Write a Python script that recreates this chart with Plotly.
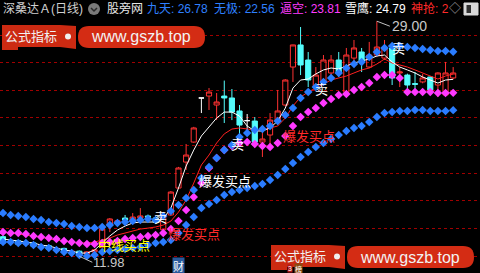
import plotly.graph_objects as go

# ---------------- data ----------------
opens = [13.40, 12.95, 13.10, 12.85, 12.95, 12.70, 12.75, 12.50, 12.55, 12.30,
         12.35, 12.15, 12.30, 12.65, 14.24, 14.40, 14.75, 14.46, 14.75, 14.90,
         14.75, 13.90, 14.97, 16.92, 18.80, 20.25, 23.44, 23.58, 22.93, 23.58,
         23.44, 22.50, 21.80, 21.77, 20.25, 20.76, 21.84, 22.93, 25.68, 27.28,
         26.19, 24.23, 24.65, 25.25, 26.19, 23.85, 26.33, 26.77, 25.68, 26.55,
         26.33, 27.06, 25.25, 25.10, 24.48, 24.60, 24.96, 24.38, 23.66, 24.89]
highs = [13.50, 13.20, 13.15, 13.00, 13.00, 12.85, 12.80, 12.65, 12.60, 12.45,
         12.40, 12.35, 12.50, 14.00, 14.75, 14.65, 14.97, 15.11, 15.47, 15.00,
         14.85, 15.00, 16.70, 18.45, 20.11, 21.35, 23.44, 24.16, 23.80, 24.70,
         24.09, 22.93, 22.28, 22.06, 20.98, 22.35, 24.02, 24.80, 27.30, 28.58,
         26.77, 25.68, 26.55, 26.55, 26.77, 27.06, 27.64, 27.06, 27.50, 29.00,
         27.64, 27.10, 25.68, 25.20, 25.32, 25.18, 25.00, 25.30, 26.05, 25.68]
lows = [12.90, 12.85, 12.80, 12.70, 12.65, 12.60, 12.45, 12.40, 12.25, 12.15,
        11.98, 12.05, 12.20, 12.60, 13.73, 14.30, 14.46, 14.40, 14.70, 14.60,
        14.35, 13.85, 14.90, 16.85, 18.23, 20.20, 22.35, 22.57, 21.84, 21.63,
        21.84, 20.76, 21.12, 20.03, 19.17, 19.67, 21.48, 22.85, 24.60, 25.10,
        24.23, 24.10, 24.55, 24.74, 24.96, 23.80, 26.10, 25.32, 25.60, 26.40,
        26.20, 24.38, 24.23, 24.02, 23.87, 24.50, 23.66, 23.51, 23.60, 24.80]
closes = [12.95, 13.10, 12.85, 12.95, 12.70, 12.75, 12.50, 12.55, 12.30, 12.35,
          12.15, 12.30, 12.45, 13.95, 14.68, 14.55, 14.60, 14.82, 14.90, 14.80,
          14.45, 14.97, 16.63, 18.37, 19.31, 21.27, 23.44, 23.87, 23.15, 23.44,
          22.42, 21.48, 21.80, 20.25, 20.47, 21.84, 22.50, 24.74, 27.28, 25.83,
          24.74, 25.10, 26.19, 26.19, 25.32, 26.55, 27.06, 26.05, 26.55, 27.13,
          27.06, 24.89, 25.32, 24.38, 24.43, 24.89, 24.02, 25.25, 25.25, 25.25]

xueying = [13.23, 13.16, 13.08, 13.01, 12.94, 12.79, 12.72, 12.58, 12.43, 12.36,
           12.21, 12.21, 12.43, 12.94, 13.45, 13.88, 14.17, 14.39, 14.46, 14.46,
           14.46, 14.68, 15.47, 16.92, 18.51, 19.67, 20.69, 21.34, 21.99, 22.42,
           22.42, 22.13, 21.41, 21.05, 21.05, 21.27, 21.77, 22.71, 24.16, 24.74,
           24.81, 25.18, 25.47, 25.61, 25.54, 25.76, 25.97, 26.12, 26.26, 26.48,
           26.55, 26.05, 25.68, 25.47, 25.25, 24.96, 24.74, 24.52, 24.74, 24.79]
red_line = [13.73, 13.66, 13.59, 13.52, 13.45, 13.37, 13.23, 13.16, 13.08, 13.01,
            12.94, 12.94, 13.01, 13.16, 13.30, 13.52, 13.66, 13.81, 13.95, 14.02,
            14.10, 14.24, 14.53, 15.18, 16.05, 17.28, 18.59, 19.31, 20.18, 20.84,
            21.19, 21.27, 21.19, 21.12, 21.12, 21.27, 21.41, 21.99, 22.86, 23.51,
            23.87, 24.16, 24.45, 24.74, 24.89, 25.03, 25.25, 25.47, 25.61, 25.90,
            26.26, 25.97, 25.83, 25.68, 25.47, 25.25, 25.03, 24.81, 25.03, 25.18]
jiutian = [15.11, 14.97, 14.89, 14.82, 14.68, 14.60, 14.46, 14.39, 14.32, 14.17,
           14.10, 14.02, 14.02, 14.10, 14.24, 14.39, 14.46, 14.53, 14.60, 14.68,
           14.60, 14.89, 15.25, 15.69, 16.20, 16.78, 17.65, 18.44, 19.09, 19.67,
           20.03, 20.61, 20.90, 21.12, 21.19, 21.41, 21.77, 22.21, 22.71, 23.44,
           23.87, 24.23, 24.60, 24.89, 25.25, 25.61, 25.90, 26.05, 26.41, 26.77,
           27.06, 27.20, 27.20, 27.13, 27.06, 26.99, 26.91, 26.84, 26.84, 26.78]
bikong = [13.73, 13.66, 13.66, 13.59, 13.45, 13.37, 13.30, 13.23, 13.08, 13.01,
          12.94, 12.87, 12.87, 12.94, 13.01, 13.08, 13.23, 13.30, 13.37, 13.45,
          13.52, 13.66, 13.95, 14.53, 15.33, 16.27, 17.28, 18.37, 19.09, 19.67,
          19.96, 20.18, 20.25, 20.11, 19.96, 19.89, 20.18, 20.69, 21.41, 22.06,
          22.42, 22.71, 23.08, 23.37, 23.66, 23.73, 24.02, 24.23, 24.52, 24.96,
          25.10, 25.10, 24.89, 23.87, 23.87, 23.87, 23.87, 23.80, 23.80, 23.81]
wuji = [13.01, 13.01, 12.94, 12.94, 12.79, 12.65, 12.58, 12.43, 12.29, 12.21,
        12.07, 12.00, 12.07, 12.29, 12.36, 12.43, 12.50, 12.58, 12.65, 12.79,
        12.94, 13.01, 13.16, 13.66, 14.24, 14.82, 15.47, 15.76, 16.05, 16.41,
        16.63, 16.78, 16.92, 17.07, 17.21, 17.50, 17.86, 18.30, 18.73, 19.17,
        19.53, 19.89, 20.18, 20.47, 20.76, 21.05, 21.27, 21.41, 21.70, 22.06,
        22.35, 22.42, 22.50, 22.50, 22.57, 22.57, 22.50, 22.50, 22.50, 22.56]

grid_levels = [12, 14, 16, 18, 20, 22, 24, 26, 28]

sig_x = [20.7, 30.7, 41.8, 51.8, 29.1, 40.1, 25.0, 15.9]
sig_y = [14.89, 20.11, 24.16, 27.13, 17.50, 20.76, 13.66, 12.82]
sig_text = ["卖", "卖", "卖", "卖", "爆发买点", "爆发买点", "爆发买点", "中线买点"]
sig_color = ["#ffffff", "#ffffff", "#ffffff", "#ffffff", "#ffffff", "#ff2a2a", "#ff2a2a", "#ffff00"]

title_text = ["深桑达Ａ(日线)", "股旁网", "九天: 26.78", "无极: 22.56",
              "逼空: 23.81", "雪鹰: 24.79", "神抢: 2", "◇"]
title_color = ["#d0d0d0", "#e6e6e6", "#2f80ff", "#2f80ff",
               "#ff3cff", "#ffffff", "#ff2a2a", "#a0a0a0"]
title_px = [1, 105, 145, 212, 278, 343, 409, 447]

hi_idx, hi_val = 49, 29.00
lo_idx, lo_val = 10, 11.98

# ---------------- figure ----------------
W, H = 480, 273
FONT = "Liberation Sans, Noto Sans CJK SC, sans-serif"
CJK = "Noto Sans CJK SC, sans-serif"

def px(x):
    return x / W

def py(y):
    return 1 - y / H

idx = list(range(len(opens)))
up = [i for i in idx if closes[i] > opens[i]]
dn = [i for i in idx if closes[i] < opens[i]]
fl = [i for i in idx if closes[i] == opens[i]]

def sub(arr, sel):
    return [arr[i] for i in sel]

fig = go.Figure()
RED = "#ff3232"
CYAN = "#54fcfc"
for sel, col, fill in [(up, RED, "rgba(0,0,0,0)"), (dn, CYAN, CYAN), (fl, "#ffffff", "#ffffff")]:
    fig.add_trace(go.Candlestick(
        x=sel, open=sub(opens, sel), high=sub(highs, sel), low=sub(lows, sel), close=sub(closes, sel),
        increasing=dict(line=dict(color=col, width=1), fillcolor=fill),
        decreasing=dict(line=dict(color=col, width=1), fillcolor=fill),
        whiskerwidth=0, hoverinfo="skip", showlegend=False))

fig.add_trace(go.Scatter(x=idx, y=red_line, mode="lines", line=dict(color="#ff2020", width=1),
                         hoverinfo="skip", showlegend=False))
fig.add_trace(go.Scatter(x=idx, y=xueying, mode="lines", line=dict(color="#ffffff", width=1),
                         hoverinfo="skip", showlegend=False))
for series, col in [(wuji, "#2a7cff"), (bikong, "#ff38ff"), (jiutian, "#2a7cff")]:
    fig.add_trace(go.Scatter(x=idx, y=series, mode="markers",
                             marker=dict(symbol="diamond", size=6.5, color=col, line=dict(width=0)),
                             hoverinfo="skip", showlegend=False))

ann = []
for x, y, t, c in zip(sig_x, sig_y, sig_text, sig_color):
    ann.append(dict(x=x, y=y, xref="x", yref="y", text=t, showarrow=False,
                    xanchor="center", yanchor="middle", borderpad=0,
                    font=dict(family=CJK, size=13, color=c)))

ann.append(dict(x=hi_idx, y=hi_val, xref="x", yref="y", text=f"{hi_val:.2f}", showarrow=True,
                arrowhead=0, arrowwidth=1, arrowcolor="#c0c0c0", ax=13, ay=5, xanchor="left",
                yanchor="middle", font=dict(family=FONT, size=14, color="#c8c8c8")))
ann.append(dict(x=lo_idx, y=lo_val, xref="x", yref="y", text=f"{lo_val:.2f}", showarrow=True,
                arrowhead=0, arrowwidth=1, arrowcolor="#c0c0c0", ax=13, ay=6, xanchor="left",
                yanchor="middle", borderpad=0, font=dict(family=FONT, size=13, color="#c8c8c8")))

for t, c, x in zip(title_text, title_color, title_px):
    ann.append(dict(x=px(x), y=py(9), xref="paper", yref="paper", text=t, showarrow=False,
                    xanchor="left", yanchor="middle", font=dict(family=FONT, size=12, color=c)))

shapes = []
# title icons
shapes.append(dict(type="circle", xref="paper", yref="paper", x0=px(88), x1=px(100), y0=py(15), y1=py(3),
                   fillcolor="#7a7a7a", line=dict(width=0), layer="above"))
shapes.append(dict(type="path", xref="paper", yref="paper",
                   path=f"M {px(91)},{py(8)} L {px(94)},{py(11)} L {px(97)},{py(8)}",
                   line=dict(color="#2a2a2a", width=1.5), layer="above"))
shapes.append(dict(type="rect", xref="paper", yref="paper", x0=px(464), x1=px(478), y0=py(15), y1=py(3),
                   fillcolor="#d8d8d8", line=dict(color="#d8d8d8", width=1), layer="above"))
shapes.append(dict(type="rect", xref="paper", yref="paper", x0=px(466.5), x1=px(471), y0=py(13), y1=py(5),
                   fillcolor="#303030", line=dict(width=0), layer="above"))


def watermark(x0, y0):
    # flag box with 公式指标, dot, rounded pill with url
    bx = [x0, x0 + 58, x0 + 74, x0 + 74, x0 + 58, x0 + 16, x0 + 16, x0]
    by = [y0, y0, y0 + 1, y0 + 24, y0 + 22, y0 + 22, y0 + 25, y0 + 25]
    p = "M " + " L ".join(f"{px(a)},{py(b)}" for a, b in zip(bx, by)) + " Z"
    shapes.append(dict(type="path", xref="paper", yref="paper", path=p, fillcolor="#cc2a12",
                       line=dict(width=0), layer="above"))
    shapes.append(dict(type="circle", xref="paper", yref="paper", x0=px(x0 + 63), x1=px(x0 + 69),
                       y0=py(y0 + 14.5), y1=py(y0 + 8.5), fillcolor="#f0f0f0", line=dict(width=0), layer="above"))
    l, r, t, b = x0 + 76, x0 + 203, y0 + 1, y0 + 23
    rad = 11
    p2 = (f"M {px(l + rad)},{py(t)} L {px(r - rad)},{py(t)} Q {px(r)},{py(t)} {px(r)},{py(t + rad)} "
          f"Q {px(r)},{py(b)} {px(r - rad)},{py(b)} L {px(l + rad)},{py(b)} "
          f"Q {px(l)},{py(b)} {px(l)},{py(t + rad)} Q {px(l)},{py(t)} {px(l + rad)},{py(t)} Z")
    shapes.append(dict(type="path", xref="paper", yref="paper", path=p2, fillcolor="#d42c14",
                       line=dict(width=0), layer="above"))
    ann.append(dict(x=px(x0 + 29), y=py(y0 + 10), xref="paper", yref="paper", text="公式指标",
                    showarrow=False, xanchor="center", yanchor="middle", borderpad=0,
                    font=dict(family=CJK, size=13, color="#f2f2f2")))
    ann.append(dict(x=px(x0 + 139), y=py(y0 + 12), xref="paper", yref="paper", text="www.gszb.top",
                    showarrow=False, xanchor="center", yanchor="middle",
                    font=dict(family=FONT, size=16, color="#f2f2f2")))


watermark(2, 25)
watermark(271, 245)

ann.append(dict(x=px(178.5), y=py(266), xref="paper", yref="paper", text="财", showarrow=False,
                xanchor="center", yanchor="middle",
                bgcolor="#2a5a9c", borderpad=0, font=dict(family=CJK, size=11, color="#ffffff")))
ann.append(dict(x=px(290), y=py(268.5), xref="paper", yref="paper", text="3", showarrow=False,
                xanchor="center", yanchor="middle",
                bgcolor="#b01818", borderpad=0, font=dict(family=FONT, size=7, color="#ffffff")))
ann.append(dict(x=px(298), y=py(268.5), xref="paper", yref="paper", text="榜", showarrow=False,
                xanchor="center", yanchor="middle",
                bgcolor="#8a4a10", borderpad=0, font=dict(family=CJK, size=7, color="#ffffff")))

px_per_unit = 13.8125
y_top = 28 + 35 / px_per_unit
y_bot = 12 - 17 / px_per_unit
step = 7.63
x_left = -3 / step
x_right = (W - 3) / step

fig.update_layout(
    width=W, height=H, margin=dict(l=0, r=0, t=0, b=0),
    paper_bgcolor="#000000", plot_bgcolor="#000000",
    showlegend=False, hovermode=False,
    boxgap=0.18, boxgroupgap=0.18,
    xaxis=dict(range=[x_left, x_right], showgrid=False, zeroline=False, showticklabels=False,
               rangeslider=dict(visible=False), fixedrange=True),
    yaxis=dict(range=[y_bot, y_top], tickvals=grid_levels, showgrid=True, gridcolor="#a00000",
               griddash="dot", gridwidth=1, zeroline=False, showticklabels=False, fixedrange=True),
    annotations=ann, shapes=shapes,
)

fig.write_html("out.html", config={"displayModeBar": False})
